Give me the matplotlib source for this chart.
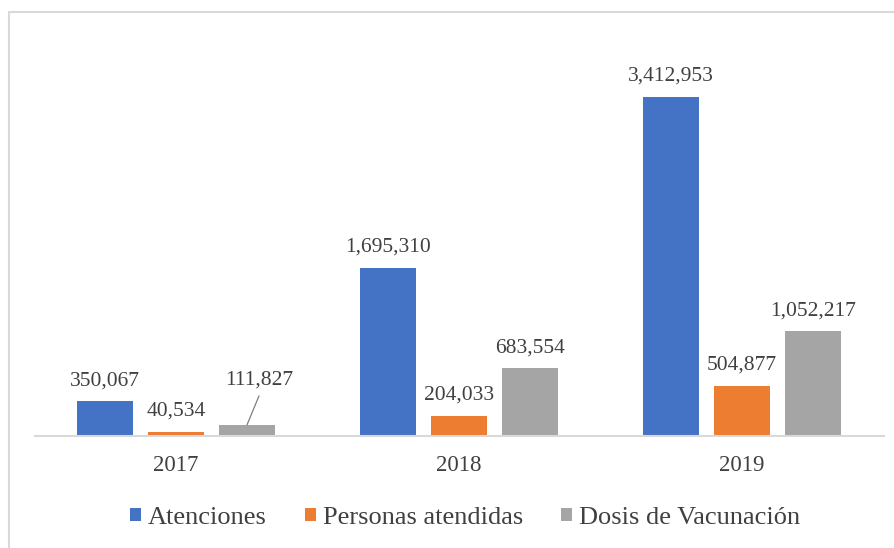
import matplotlib
matplotlib.use("Agg")
import matplotlib.pyplot as plt
from matplotlib.patches import Patch, Rectangle
import numpy as np

years = ["2017", "2018", "2019"]
series = ["Atenciones", "Personas atendidas", "Dosis de Vacunación"]
atenciones = [350067, 1695310, 3412953]
personas = [40534, 204033, 504877]
dosis = [111827, 683554, 1052217]
colors = ["#4472C4", "#ED7D31", "#A5A5A5"]

plt.rcParams['font.family'] = ['Liberation Serif', 'DejaVu Serif']
W, H = 894, 548
fig = plt.figure(figsize=(W / 100, H / 100), dpi=100)

# outer frame
fig.patches.append(Rectangle((9 / W, -0.1), 1.2, 1 - 12 / H + 0.1, transform=fig.transFigure,
                             fill=False, edgecolor="#D9D9D9", linewidth=1.5, zorder=0))

ax = fig.add_axes([34.5 / W, 112 / H, 849 / W, 397.3 / H])
ax.set_xlim(-0.5, 2.5)
ax.set_ylim(0, 4000000)

x = np.arange(len(years))
width = 56 / 283
step = 71 / 283
text_color = "#404040"
data = [atenciones, personas, dosis]
for i, (vals, c, name) in enumerate(zip(data, colors, series)):
    xs = x + (i - 1) * step
    ax.bar(xs, vals, width=width, color=c, label=name, zorder=2)
    for j, (xx, v) in enumerate(zip(xs, vals)):
        lab = f"{v:,}"
        if i == 2 and j == 0:
            ax.annotate(lab, xy=(xx, v), xytext=(12, 40), textcoords='offset pixels',
                        ha='center', va='baseline', fontsize=15.5, color=text_color)
            ax.annotate('', xy=(xx, v), xytext=(12, 29), textcoords='offset pixels',
                        arrowprops=dict(arrowstyle='-', color='#7F7F7F', lw=0.9,
                                        shrinkA=0, shrinkB=0))
        else:
            ax.annotate(lab, xy=(xx, v), xytext=(0, 16), textcoords='offset pixels',
                        ha='center', va='baseline', fontsize=15.5, color=text_color)

for s in ["top", "right", "left"]:
    ax.spines[s].set_visible(False)
ax.spines["bottom"].set_color("#D9D9D9")
ax.spines["bottom"].set_linewidth(1.5)
ax.set_yticks([])
ax.set_xticks(x)
ax.set_xticklabels(years, fontsize=16.5, color=text_color)
ax.tick_params(axis='x', length=0, pad=14)

handles = [Patch(facecolor=c, edgecolor='none') for c in colors]
fig.legend(handles, series, loc='center', bbox_to_anchor=(465 / W, 1 - 518 / H), ncol=3,
           frameon=False, fontsize=19, handlelength=0.42, handleheight=0.42,
           handletextpad=0.27, columnspacing=1.44, labelcolor=text_color)

fig.savefig("out.png", dpi=100)
